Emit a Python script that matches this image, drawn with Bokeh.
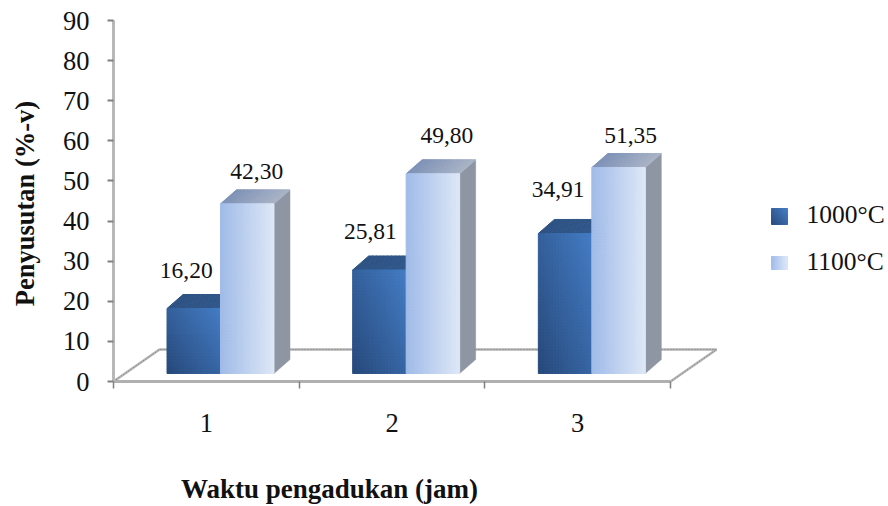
import math

from bokeh.embed import file_html
from bokeh.resources import INLINE
from bokeh.plotting import figure
from bokeh.models import FixedTicker
from bokeh.core.properties import value

# Values
groups = ["1", "2", "3"]
series_names = ["1000°C", "1100°C"]
values_1000 = [16.20, 25.81, 34.91]
values_1100 = [42.30, 49.80, 51.35]
labels_1000 = ["16,20", "25,81", "34,91"]
labels_1100 = ["42,30", "49,80", "51,35"]
y_ticks = list(range(0, 100, 10))
x_title = "Waktu pengadukan (jam)"
y_title = "Penyusutan (%-v)"

# Pixel scale of the plot and the 3D projection, in pixels
PLOT_W, PLOT_H = 888, 506
ORIGIN_X, ORIGIN_Y = 113, 381
GROUP_PX = 185.67
UX = 1 / GROUP_PX
UY = 90 / 361
BAR_W = 53.5
BAR_START = 53.5
BASE_PX = 8
DEPTH_X, DEPTH_Y = 16, 14
FLOOR_DX, FLOOR_DY = 46, 32
SERIF = "Liberation Serif"
TEXT_SHIFT = 8.5

# Hand-placed value labels: offset from bar centre, height above bar top
dx_1000, up_1000 = [-7.5, -9, -7], [30, 29.5, 35]
dx_1100, up_1100 = [9.5, 14, 12], [24, 30, 24]


def hex_rgb(c):
    return tuple(int(c[i:i + 2], 16) for i in (1, 3, 5))


def mix(a, b, t):
    ra, rb = hex_rgb(a), hex_rgb(b)
    return "#%02x%02x%02x" % tuple(round(p + (q - p) * t) for p, q in zip(ra, rb))


def shade_dark(u, v):
    return mix("#27497a", "#447cc4", 0.55 * u + 0.45 * v)


def shade_light(u, v):
    return mix("#a0bbe8", "#dde7f6", u)


# The frame fills the page; both axes sit at zero inside it
p = figure(
    width=PLOT_W, height=PLOT_H, output_backend="svg", toolbar_location=None,
    x_range=(-ORIGIN_X * UX, (PLOT_W - ORIGIN_X) * UX),
    y_range=(-(PLOT_H - ORIGIN_Y) * UY, ORIGIN_Y * UY),
    min_border=0, outline_line_color=None, background_fill_color="white",
)
p.grid.visible = False


def shaded_rect(x0, x1, y0, y1, shader, step_x=3, step_y=3):
    """Fill a rectangle (data units) with small cells coloured by shader(u, v)."""
    nx = max(1, round((x1 - x0) / UX / step_x))
    ny = max(1, round((y1 - y0) / UY / step_y))
    left, right, bottom, top, colors = [], [], [], [], []
    for i in range(nx):
        for j in range(ny):
            left.append(x0 + (x1 - x0) * i / nx)
            right.append(x0 + (x1 - x0) * (i + 1) / nx)
            bottom.append(y0 + (y1 - y0) * j / ny)
            top.append(y0 + (y1 - y0) * (j + 1) / ny)
            colors.append(shader((i + 0.5) / nx, (j + 0.5) / ny))
    p.quad(left=left, right=right, bottom=bottom, top=top,
           fill_color=colors, line_color=colors, line_width=1)


def draw_bar(x0, val, shader, top_left, top_right, side_color):
    x1 = x0 + BAR_W * UX
    base = BASE_PX * UY
    dx, dy = DEPTH_X * UX, DEPTH_Y * UY
    front_top = base + val
    # side face
    p.patch([x1, x1 + dx, x1 + dx, x1], [base, base + dy, front_top + dy, front_top],
            fill_color=side_color, line_color=side_color, line_width=0.5)
    # top face, in thin sheared strips
    n = 14
    for i in range(n):
        a = x0 + (x1 - x0) * i / n
        b = x0 + (x1 - x0) * (i + 1) / n
        c = mix(top_left, top_right, (i + 0.5) / n)
        p.patch([a, b, b + dx, a + dx], [front_top, front_top, front_top + dy, front_top + dy],
                fill_color=c, line_color=c, line_width=1)
    # front face
    shaded_rect(x0, x1, base, front_top, shader)


# Floor of the chart
floor_x = [0, FLOOR_DX * UX, (3 * GROUP_PX + FLOOR_DX) * UX, 3]
floor_y = [0, FLOOR_DY * UY, FLOOR_DY * UY, 0]
p.line(floor_x, floor_y, line_color="#b4b4b4", line_width=2.6)
p.line(floor_x, floor_y, line_color="#7f7f7f", line_width=1, line_dash="1 2")

# Bars, darker series first so the lighter one sits in front of its side face
for g in range(3):
    x_dark = g + BAR_START * UX
    draw_bar(x_dark, values_1000[g], shade_dark, "#2d5283", "#31588b", "#2d5283")
    draw_bar(x_dark + BAR_W * UX, values_1100[g], shade_light, "#7d91b6", "#a9b3c6", "#8f96a3")

# Value labels
for g in range(3):
    x_dark = g + (BAR_START + BAR_W / 2) * UX
    x_light = x_dark + BAR_W * UX
    base = BASE_PX * UY
    p.text(x=[x_dark + dx_1000[g] * UX], y=[base + values_1000[g] + (up_1000[g] + TEXT_SHIFT) * UY],
           text=[labels_1000[g]],
           text_font=value(SERIF), text_font_size="23.5px", text_align="center",
           text_baseline="alphabetic", text_color="#111111")
    p.text(x=[x_light + dx_1100[g] * UX], y=[base + values_1100[g] + (up_1100[g] + TEXT_SHIFT) * UY],
           text=[labels_1100[g]],
           text_font=value(SERIF), text_font_size="23.5px", text_align="center",
           text_baseline="alphabetic", text_color="#111111")

# Legend
legend_x = 658 * UX
for y_low, h, shader, name, ty in zip([157, 112], [16, 13], [shade_dark, shade_light], series_names, [159, 112]):
    shaded_rect(legend_x, legend_x + 16 * UX, y_low * UY, (y_low + h) * UY, shader, step_x=2, step_y=2)
    p.text(x=[legend_x + 35 * UX], y=[(ty + TEXT_SHIFT) * UY], text=[name],
           text_font=value(SERIF), text_font_size="25.5px", text_align="left",
           text_baseline="alphabetic", text_color="#111111")

# Axes
xa = p.xaxis[0]
xa.fixed_location = 0
xa.ticker = FixedTicker(ticks=[0.5, 1.5, 2.5], minor_ticks=[0, 1, 2, 3])
xa.major_label_overrides = {0.5: groups[0], 1.5: groups[1], 2.5: groups[2]}
xa.bounds = (0, 3)
xa.major_tick_line_color = None
xa.minor_tick_line_color = "#808080"
xa.minor_tick_line_width = 1.5
xa.minor_tick_out = 7
xa.minor_tick_in = 0
xa.axis_line_color = "#b0b0b0"
xa.axis_line_width = 3
xa.major_label_text_font = SERIF
xa.major_label_text_font_size = "26.5px"
xa.major_label_text_color = "#111111"
xa.major_label_standoff = 25

ya = p.yaxis[0]
ya.fixed_location = 0
ya.ticker = FixedTicker(ticks=y_ticks)
ya.bounds = (0, 90)
ya.major_tick_line_color = "#808080"
ya.major_tick_line_width = 2
ya.major_tick_out = 6
ya.major_tick_in = 0
ya.minor_tick_line_color = None
ya.axis_line_color = "#b8b8b8"
ya.axis_line_width = 3
ya.major_label_text_font = SERIF
ya.major_label_text_font_size = "26.5px"
ya.major_label_text_color = "#111111"
ya.major_label_standoff = 18

# Grainy centre stroke along both axis lines
p.line([0, 0], [0, 90], line_color="#808080", line_width=1, line_dash="1 2")
p.line([0, 3], [0, 0], line_color="#7f7f7f", line_width=1, line_dash="1 2")

# Axis titles
p.text(x=[(329 - ORIGIN_X) * UX], y=[-(116 - TEXT_SHIFT) * UY], text=[x_title],
       text_font=value(SERIF), text_font_size="27px", text_font_style="bold",
       text_align="center", text_baseline="alphabetic", text_color="#111111")
p.text(x=[-(ORIGIN_X - 33 + TEXT_SHIFT) * UX], y=[(ORIGIN_Y - 203) * UY], text=[y_title], angle=[math.pi / 2],
       text_font=value(SERIF), text_font_size="26.5px", text_font_style="bold",
       text_align="center", text_baseline="alphabetic", text_color="#111111")

open("out.html", "w").write(file_html(p, INLINE))
